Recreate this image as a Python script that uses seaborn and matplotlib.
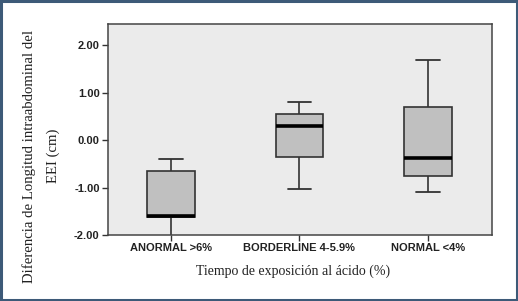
import matplotlib
matplotlib.use("Agg")
import matplotlib.pyplot as plt
from matplotlib.patches import Rectangle
import pandas as pd
import seaborn as sns

# five-number summaries: min, q1, median, q3, max
categories = ["ANORMAL >6%", "BORDERLINE 4-5.9%", "NORMAL <4%"]
anormal = [-2.10, -1.62, -1.60, -0.64, -0.40]
borderline = [-1.02, -0.36, 0.30, 0.55, 0.81]
normal = [-1.10, -0.75, -0.38, 0.70, 1.70]
yticks = [-2.0, -1.0, 0.0, 1.0, 2.0]

df = pd.DataFrame({
    "grupo": [categories[0]] * 5 + [categories[1]] * 5 + [categories[2]] * 5,
    "valor": anormal + borderline + normal,
})

sns.set_theme(style="white")
plt.rcParams["font.family"] = ["DejaVu Sans"]

fig = plt.figure(figsize=(5.18, 3.01), dpi=100)
ax = fig.add_axes([0.2085, 0.219, 0.7415, 0.701])
ax.set_facecolor("#ebebeb")

sns.boxplot(data=df, x="grupo", y="valor", order=categories, whis=(0, 100),
            width=0.37, color="#c0c0c0", linecolor="#333333", linewidth=1.2,
            medianprops={"color": "black", "linewidth": 2.6},
            capprops={"color": "#333333", "linewidth": 1.3}, ax=ax)
for line in ax.lines:
    line.set_clip_on(True)

ax.set_ylim(-2.0, 2.45)
ax.set_xlim(-0.49, 2.5)
ax.set_yticks(yticks)
ax.set_yticklabels([f"{v:.2f}" for v in yticks], fontsize=8, fontweight="bold",
                   family="Liberation Sans", color="#222222")
ax.set_xticks(range(len(categories)))
ax.set_xticklabels(categories, fontsize=8, fontweight="bold",
                   family="Liberation Sans", color="#222222")
ax.tick_params(axis="both", direction="out", length=4, width=1, color="#333333",
               left=True, bottom=True, pad=2)
for s in ax.spines.values():
    s.set_color("#444444")
    s.set_linewidth(1.1)
ax.set_xlabel("")
ax.set_ylabel("")

fig.text(293 / 518, 1 - 271 / 301, "Tiempo de exposición al ácido (%)",
         family="Liberation Serif", fontsize=10, color="#222222",
         ha="center", va="center")
fig.text(29 / 518, 1 - 156 / 301, "Diferencia de Longitud intraabdominal del",
         family="Liberation Serif", fontsize=10.6, color="#222222",
         ha="center", va="center", rotation=90)
fig.text(53 / 518, 1 - 156 / 301, "EEI (cm)",
         family="Liberation Serif", fontsize=10.6, color="#222222",
         ha="center", va="center", rotation=90)

fig.patches.append(Rectangle((0.002, 0.003), 0.996, 0.994, transform=fig.transFigure,
                             fill=False, edgecolor="#3d5a78", linewidth=2.2))

fig.savefig("out.png", dpi=100)
